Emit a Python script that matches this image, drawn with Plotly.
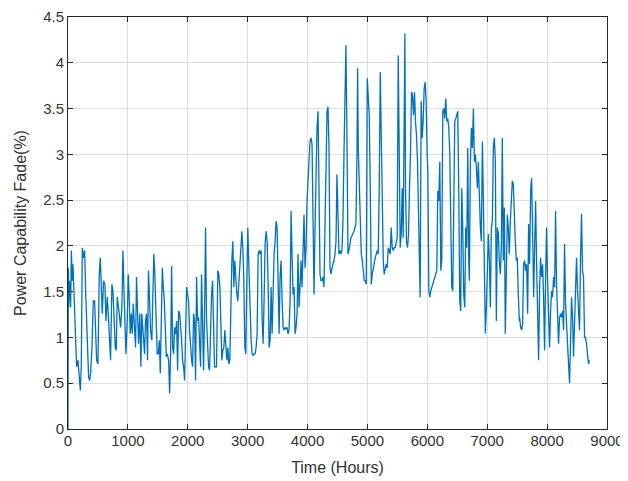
import plotly.graph_objects as go

# Hourly power capability fade (%), by segment
hours_a = [0, 5, 11, 28, 44, 56, 72, 83, 100, 111, 128, 144, 167, 183, 206, 222, 239, 256, 278, 294, 311, 333, 344, 361, 378, 400, 422, 444, 461, 478, 500, 522, 539, 556, 572, 594, 617, 633, 656, 672, 689, 711, 733, 750, 767, 789, 806, 822, 844, 861, 878, 900, 917, 933, 950, 967, 989, 1006, 1022, 1039, 1056, 1072, 1089, 1111, 1128, 1144, 1161, 1178, 1200, 1217, 1233, 1256, 1278, 1294, 1311, 1328, 1344, 1361, 1378, 1400, 1417, 1433, 1450, 1467, 1489]
fade_a = [0, 1.76, 1.33, 1.62, 1.33, 1.95, 1.62, 1.80, 1.51, 1.18, 0.97, 0.68, 0.75, 0.61, 0.42, 0.71, 1.98, 1.87, 1.95, 1.51, 1.18, 0.89, 0.57, 0.53, 0.61, 0.89, 1.40, 1.40, 1.08, 0.75, 0.71, 1.69, 1.87, 1.44, 1.26, 1.62, 1.58, 1.18, 1.44, 1.26, 1.08, 0.75, 1.58, 1.51, 1.26, 0.89, 0.86, 1.44, 1.33, 1.18, 1.11, 1.33, 1.95, 1.55, 1.18, 0.82, 1.18, 1.69, 1.44, 1.04, 1.26, 1.04, 1.37, 1.11, 0.89, 1.66, 1.15, 0.93, 1.26, 0.68, 1.26, 1.08, 0.82, 1.18, 1.26, 0.75, 1.73, 1.44, 1.08, 0.97, 1.62, 1.91, 1.69, 1.26, 0.82]

hours_b = [1508, 1525, 1541, 1558, 1575, 1591, 1608, 1625, 1641, 1658, 1680, 1697, 1714, 1730, 1747, 1764, 1780, 1797, 1814, 1830, 1847, 1864, 1880, 1897, 1914, 1930, 1947, 1964, 1980, 1997, 2014, 2030, 2047, 2064, 2080, 2097, 2114, 2130, 2147, 2164, 2180, 2197, 2214, 2230, 2247, 2264, 2280, 2297, 2314, 2330, 2347, 2364, 2380, 2397, 2414, 2430, 2447, 2464, 2480, 2502, 2519, 2536, 2552, 2569, 2586, 2602, 2619, 2636, 2652, 2669, 2686, 2702, 2719, 2736, 2752, 2769, 2786, 2802, 2819, 2836, 2853, 2869, 2886, 2903, 2919, 2936, 2953, 2969, 2986, 3002, 3019]
fade_b = [0.82, 0.97, 0.61, 1.26, 1.76, 1.55, 1.40, 1.11, 0.79, 0.82, 0.75, 0.39, 0.82, 1.78, 0.89, 0.82, 1.11, 1.04, 1.18, 0.64, 1.29, 1.26, 1.15, 0.97, 0.75, 0.68, 0.53, 1.11, 1.55, 1.47, 1.40, 1.08, 0.89, 0.75, 0.68, 1.26, 1.18, 0.53, 1.66, 1.18, 1.22, 0.79, 0.68, 1.69, 1.00, 0.64, 1.26, 2.20, 1.18, 1.00, 0.68, 0.64, 1.15, 1.47, 1.62, 1.18, 0.68, 0.68, 0.68, 1.73, 1.69, 1.55, 0.93, 0.75, 0.86, 0.89, 1.08, 0.86, 0.75, 0.89, 0.71, 0.75, 1.40, 1.84, 2.05, 1.55, 1.84, 1.62, 1.47, 1.40, 1.62, 1.87, 2.05, 2.16, 1.98, 1.62, 0.89, 0.82, 1.62, 2.20, 1.80]

hours_c = [3041, 3058, 3075, 3091, 3108, 3125, 3141, 3158, 3175, 3191, 3208, 3225, 3241, 3258, 3275, 3291, 3308, 3325, 3341, 3358, 3375, 3391, 3408, 3425, 3441, 3458, 3475, 3491, 3508, 3525, 3541, 3558, 3575, 3591, 3608, 3625, 3641, 3658, 3675, 3691, 3708, 3725, 3741, 3758, 3775, 3791, 3808, 3825, 3841, 3858, 3875, 3891, 3908, 3925, 3941, 3958, 3975, 3991, 4008, 4025, 4041, 4058, 4075, 4091, 4108, 4125, 4141, 4158, 4175, 4191, 4208, 4225, 4241, 4258, 4275, 4291, 4308, 4325, 4341, 4358, 4375, 4391, 4408, 4425, 4441, 4458, 4475, 4491, 4508, 4525]
fade_c = [1.22, 0.97, 0.82, 0.80, 0.82, 0.82, 0.89, 1.04, 1.91, 1.95, 1.91, 1.95, 1.22, 0.93, 1.44, 2.02, 2.16, 2.05, 1.62, 0.89, 0.97, 1.55, 1.04, 1.69, 1.91, 2.05, 2.27, 2.20, 1.40, 1.04, 1.66, 1.84, 1.40, 1.11, 1.08, 1.11, 1.09, 1.11, 1.04, 1.08, 1.40, 2.38, 1.91, 1.47, 1.55, 1.04, 1.11, 1.26, 1.91, 1.33, 1.55, 1.84, 1.55, 2.20, 2.34, 1.76, 1.98, 2.49, 2.74, 3.03, 3.14, 3.18, 3.11, 2.31, 1.47, 2.20, 2.85, 3.29, 3.47, 2.49, 1.69, 1.62, 1.62, 1.66, 1.55, 2.20, 3.03, 3.47, 3.52, 3.07, 1.76, 1.69, 1.76, 1.80, 1.84, 1.91, 2.05, 2.78, 2.13, 1.91]

hours_d = [4541, 4558, 4575, 4591, 4608, 4625, 4641, 4658, 4675, 4691, 4708, 4725, 4741, 4758, 4775, 4791, 4808, 4825, 4836, 4847, 4864, 4880, 4897, 4914, 4930, 4947, 4964, 4980, 4997, 5014, 5030, 5047, 5064, 5080, 5097, 5114, 5130, 5147, 5164, 5180, 5197, 5214, 5230, 5247, 5264, 5280, 5297, 5314, 5330, 5347, 5364, 5380, 5397, 5414, 5430, 5447, 5464, 5480, 5497, 5514, 5530, 5547, 5564, 5580, 5597, 5614, 5625, 5636, 5652, 5669, 5686, 5702, 5719, 5736, 5752, 5769, 5786, 5802, 5819, 5836, 5852, 5869, 5880, 5897, 5914, 5930, 5947, 5964, 5980, 5997]
fade_d = [1.95, 1.91, 1.95, 2.27, 3.00, 3.90, 4.19, 3.18, 1.91, 1.95, 2.05, 2.09, 2.11, 2.13, 2.16, 2.20, 2.24, 3.00, 3.94, 3.07, 2.71, 2.42, 1.91, 1.84, 1.69, 1.62, 1.62, 1.58, 3.83, 3.58, 3.43, 2.63, 1.58, 1.69, 1.76, 1.80, 1.87, 1.91, 1.95, 1.91, 2.63, 3.90, 3.11, 2.42, 1.84, 1.69, 1.76, 1.80, 1.76, 1.98, 1.95, 1.91, 2.20, 1.98, 1.95, 1.98, 1.98, 2.02, 2.09, 4.08, 3.00, 1.98, 2.13, 2.63, 2.09, 4.23, 4.32, 2.63, 2.05, 1.98, 2.13, 2.63, 3.00, 3.68, 3.65, 3.43, 3.68, 3.36, 3.21, 2.92, 2.27, 1.55, 1.44, 3.58, 3.18, 3.36, 3.72, 3.79, 3.58, 3.00]

hours_e = [6008, 6025, 6041, 6058, 6075, 6091, 6108, 6125, 6141, 6158, 6175, 6191, 6208, 6225, 6241, 6258, 6275, 6291, 6308, 6325, 6341, 6358, 6375, 6391, 6408, 6425, 6441, 6458, 6475, 6491, 6508, 6525, 6541, 6558, 6575, 6591, 6608, 6625, 6641, 6658, 6675, 6691, 6702, 6719, 6736, 6752, 6769, 6786, 6802, 6819, 6836, 6852, 6869, 6886, 6902, 6919, 6936, 6952, 6969, 6986, 7002, 7019, 7036, 7052, 7069, 7086, 7102, 7119, 7136, 7152, 7169, 7186, 7202, 7219, 7236, 7252, 7269, 7286, 7302, 7319, 7336, 7352, 7369, 7386, 7402, 7419, 7436, 7452, 7469, 7486, 7502, 7519, 7536]
fade_e = [2.82, 1.51, 1.44, 1.51, 1.55, 1.58, 1.62, 1.66, 1.69, 1.73, 2.60, 2.49, 2.92, 1.73, 1.84, 3.47, 3.50, 3.39, 3.61, 3.36, 3.39, 3.29, 3.00, 2.20, 1.55, 1.51, 2.56, 3.36, 3.39, 3.43, 3.47, 2.56, 1.40, 1.29, 2.63, 2.20, 1.47, 1.33, 2.20, 1.98, 3.07, 1.84, 1.62, 2.92, 3.29, 3.07, 3.50, 2.92, 3.00, 2.85, 2.63, 2.92, 2.49, 2.20, 2.05, 3.14, 2.49, 1.84, 1.04, 1.33, 1.84, 2.13, 1.84, 1.33, 2.20, 2.27, 3.07, 3.18, 2.92, 1.18, 2.20, 2.13, 1.84, 1.69, 1.98, 3.18, 1.84, 2.42, 1.04, 1.84, 2.34, 2.20, 1.91, 2.27, 2.56, 2.71, 2.67, 2.27, 2.05, 1.84, 1.87, 1.47, 1.18]

hours_f = [7541, 7558, 7575, 7591, 7608, 7625, 7641, 7658, 7675, 7691, 7708, 7725, 7741, 7758, 7775, 7791, 7808, 7825, 7841, 7858, 7875, 7891, 7908, 7925, 7941, 7958, 7975, 7991, 8008, 8025, 8041, 8058, 8075, 8091, 8108, 8125, 8141, 8158, 8175, 8191, 8208, 8225, 8241, 8258, 8275, 8291, 8308, 8325, 8341, 8358, 8375, 8391, 8408, 8425, 8441, 8458, 8475, 8491, 8508, 8525, 8541, 8558, 8575, 8591, 8608, 8625, 8641, 8658, 8675, 8691, 8708]
fade_f = [1.22, 1.11, 1.08, 1.15, 1.80, 1.84, 1.73, 1.80, 1.26, 2.24, 1.80, 2.60, 2.74, 2.16, 1.44, 1.95, 2.49, 1.80, 1.26, 0.75, 1.55, 1.87, 1.66, 1.80, 1.44, 0.86, 1.66, 2.20, 1.62, 1.22, 0.89, 1.29, 1.51, 1.44, 1.66, 1.55, 2.38, 1.58, 1.08, 0.93, 1.22, 1.26, 1.22, 1.29, 1.08, 2.02, 1.37, 1.08, 0.86, 0.71, 0.50, 1.08, 1.44, 1.22, 0.79, 1.15, 1.51, 1.87, 1.51, 1.22, 1.08, 1.87, 2.35, 1.73, 1.66, 1.00, 1.00, 0.93, 0.79, 0.71, 0.75]

hours = hours_a + hours_b + hours_c + hours_d + hours_e + hours_f
fade = fade_a + fade_b + fade_c + fade_d + fade_e + fade_f
assert len(hours) == len(fade), (len(hours), len(fade))

x_title = "Time (Hours)"
y_title = "Power Capability Fade(%)"

axis_color = "#262626"
grid_color = "#dedede"
text_color = "#333333"
font_family = "Arial, Liberation Sans, Helvetica, sans-serif"

fig = go.Figure()
fig.add_trace(go.Scatter(
    x=hours, y=fade, mode="lines",
    line=dict(color="#0072BD", width=1.3),
    showlegend=False,
))

common = dict(
    showgrid=True, gridcolor=grid_color, gridwidth=1,
    showline=True, linecolor=axis_color, linewidth=1,
    mirror="allticks", ticks="inside", ticklen=5, tickcolor=axis_color,
    zeroline=False, ticklabeloverflow="allow",
    tickfont=dict(size=15, color=text_color, family=font_family),
)

fig.update_xaxes(range=[0, 9000], tick0=0, dtick=1000,
                 title=dict(text=x_title, font=dict(size=16, color=text_color, family=font_family), standoff=13),
                 ticklabelstandoff=-2,
                 **common)
fig.update_yaxes(range=[0, 4.5], tick0=0, dtick=0.5,
                 title=dict(text=y_title, font=dict(size=16, color=text_color, family=font_family), standoff=12),
                 **common)

# the page body adds an 8 px offset, so the figure is sized to fit the window
fig.update_layout(
    width=620, height=473,
    margin=dict(l=59.5, r=20.5, t=9, b=52, autoexpand=False),
    paper_bgcolor="white", plot_bgcolor="white",
    font=dict(family=font_family, color=text_color),
)

fig.write_html("out.html")
